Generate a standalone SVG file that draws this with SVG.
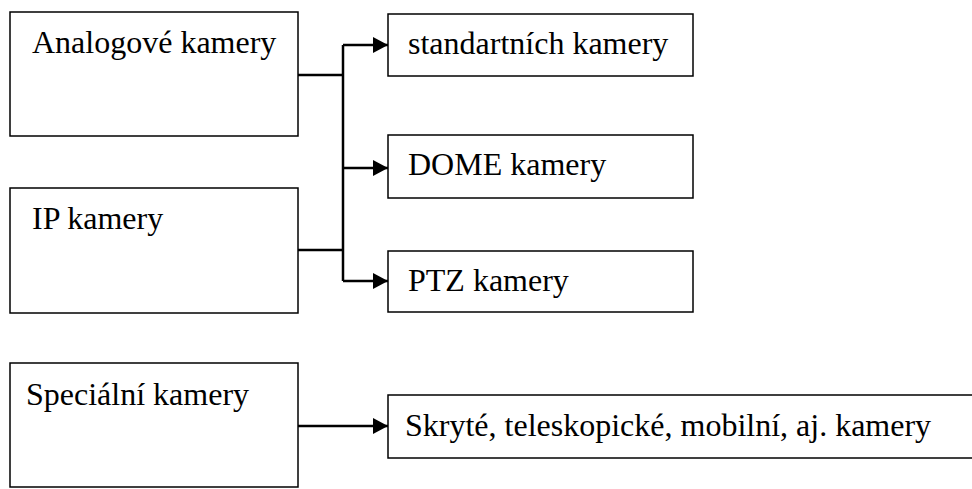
<svg xmlns="http://www.w3.org/2000/svg" width="972" height="489" viewBox="0 0 972 489">
<style>
.box{fill:#fff;stroke:#000;stroke-width:1.5}
.t{font-family:"Liberation Serif","Times New Roman",serif;font-size:32px;fill:#000}
.c{fill:none;stroke:#000;stroke-width:2.5}
</style>
<defs>
<marker id="ah" markerUnits="userSpaceOnUse" markerWidth="16" markerHeight="16" refX="15" refY="8" orient="auto">
<path d="M0,0 L15,8 L0,16 Z" fill="#000"/>
</marker>
</defs>
<rect width="972" height="489" fill="#fff"/>
<g id="connectors">
<path class="c" d="M298,75 H343"/>
<path class="c" d="M298,250 H343"/>
<path class="c" d="M343,45 V281"/>
<path class="c" d="M343,45 H388" marker-end="url(#ah)"/>
<path class="c" d="M343,168 H388" marker-end="url(#ah)"/>
<path class="c" d="M343,281 H388" marker-end="url(#ah)"/>
<path class="c" d="M298,426 H388" marker-end="url(#ah)"/>
</g>
<g id="analog">
<rect class="box" x="10" y="12" width="288" height="124"/>
<text class="t" x="32" y="53">Analogové kamery</text>
</g>
<g id="ip">
<rect class="box" x="10" y="188" width="288" height="125"/>
<text class="t" x="32" y="229">IP kamery</text>
</g>
<g id="special">
<rect class="box" x="10" y="363" width="288" height="124"/>
<text class="t" x="26" y="405">Speciální kamery</text>
</g>
<g id="standard">
<rect class="box" x="388" y="14" width="305" height="62"/>
<text class="t" x="408" y="54">standartních kamery</text>
</g>
<g id="dome">
<rect class="box" x="388" y="135" width="305" height="63"/>
<text class="t" x="408" y="175">DOME kamery</text>
</g>
<g id="ptz">
<rect class="box" x="388" y="251" width="305" height="61"/>
<text class="t" x="408" y="291">PTZ kamery</text>
</g>
<g id="hidden">
<rect class="box" x="388" y="395" width="590" height="63"/>
<text class="t" x="405" y="436">Skryté, teleskopické, mobilní, aj. kamery</text>
</g>
</svg>
